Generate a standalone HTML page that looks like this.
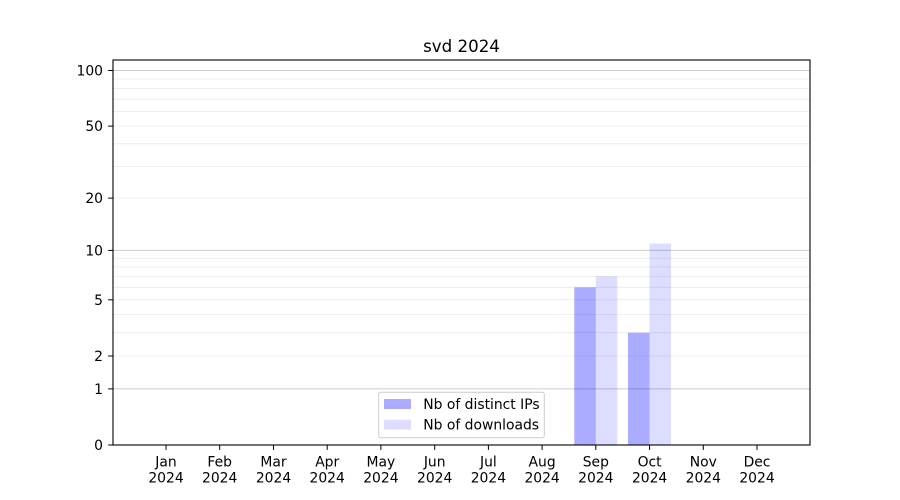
<!DOCTYPE html>
<html><head><meta charset="utf-8"><style>
html,body{margin:0;padding:0;background:#fff;}
svg{display:block;font-family:"DejaVu Sans","Liberation Sans",sans-serif;}
</style></head><body>
<svg width="900" height="500" viewBox="0 0 900 500" xmlns="http://www.w3.org/2000/svg">
<rect x="0" y="0" width="900" height="500" fill="#fff"/>
<!-- minor grid -->
<g stroke="#ebebeb" stroke-width="0.8">
<line x1="113" x2="810" y1="356.0" y2="356.0"/>
<line x1="113" x2="810" y1="332.7" y2="332.7"/>
<line x1="113" x2="810" y1="314.6" y2="314.6"/>
<line x1="113" x2="810" y1="299.8" y2="299.8"/>
<line x1="113" x2="810" y1="287.3" y2="287.3"/>
<line x1="113" x2="810" y1="276.4" y2="276.4"/>
<line x1="113" x2="810" y1="266.9" y2="266.9"/>
<line x1="113" x2="810" y1="258.3" y2="258.3"/>
<line x1="113" x2="810" y1="198.1" y2="198.1"/>
<line x1="113" x2="810" y1="166.5" y2="166.5"/>
<line x1="113" x2="810" y1="143.8" y2="143.8"/>
<line x1="113" x2="810" y1="126.1" y2="126.1"/>
<line x1="113" x2="810" y1="111.5" y2="111.5"/>
<line x1="113" x2="810" y1="99.2" y2="99.2"/>
<line x1="113" x2="810" y1="88.5" y2="88.5"/>
<line x1="113" x2="810" y1="79.1" y2="79.1"/>
</g>
<!-- major grid -->
<g stroke="#cccccc" stroke-width="1">
<line x1="113" x2="810" y1="388.9" y2="388.9"/>
<line x1="113" x2="810" y1="250.4" y2="250.4"/>
<line x1="113" x2="810" y1="70.5" y2="70.5"/>
</g>
<!-- bars -->
<rect x="574.3" y="287.3" width="21.5" height="157.7" fill="#0000ff" fill-opacity="0.33"/>
<rect x="595.8" y="276.4" width="21.5" height="168.6" fill="#0000ff" fill-opacity="0.135"/>
<rect x="628.0" y="332.7" width="21.5" height="112.3" fill="#0000ff" fill-opacity="0.33"/>
<rect x="649.5" y="243.5" width="21.5" height="201.5" fill="#0000ff" fill-opacity="0.135"/>
<!-- frame -->
<rect x="113" y="60" width="697" height="385" fill="none" stroke="#000" stroke-width="1.1"/>
<!-- y ticks -->
<g stroke="#000" stroke-width="1">
<line x1="108.2" x2="113" y1="445" y2="445"/>
<line x1="108.2" x2="113" y1="388.9" y2="388.9"/>
<line x1="108.2" x2="113" y1="356.0" y2="356.0"/>
<line x1="108.2" x2="113" y1="299.8" y2="299.8"/>
<line x1="108.2" x2="113" y1="250.4" y2="250.4"/>
<line x1="108.2" x2="113" y1="198.1" y2="198.1"/>
<line x1="108.2" x2="113" y1="126.1" y2="126.1"/>
<line x1="108.2" x2="113" y1="70.5" y2="70.5"/>
</g>
<g font-size="13.89" fill="#000" text-anchor="end">
<text x="103" y="450">0</text>
<text x="103" y="393.9">1</text>
<text x="103" y="361">2</text>
<text x="103" y="304.8">5</text>
<text x="103" y="255.4">10</text>
<text x="103" y="203.1">20</text>
<text x="103" y="131.1">50</text>
<text x="103" y="75.5">100</text>
</g>
<!-- x ticks -->
<g stroke="#000" stroke-width="1">
<line x1="166.0" x2="166.0" y1="445" y2="449.9"/>
<line x1="219.7" x2="219.7" y1="445" y2="449.9"/>
<line x1="273.5" x2="273.5" y1="445" y2="449.9"/>
<line x1="327.2" x2="327.2" y1="445" y2="449.9"/>
<line x1="380.9" x2="380.9" y1="445" y2="449.9"/>
<line x1="434.7" x2="434.7" y1="445" y2="449.9"/>
<line x1="488.4" x2="488.4" y1="445" y2="449.9"/>
<line x1="542.1" x2="542.1" y1="445" y2="449.9"/>
<line x1="595.8" x2="595.8" y1="445" y2="449.9"/>
<line x1="649.6" x2="649.6" y1="445" y2="449.9"/>
<line x1="703.3" x2="703.3" y1="445" y2="449.9"/>
<line x1="757.0" x2="757.0" y1="445" y2="449.9"/>
</g>
<g font-size="13.89" fill="#000" text-anchor="middle">
<text x="166.0" y="466.5">Jan</text><text x="166.0" y="482.5">2024</text>
<text x="219.7" y="466.5">Feb</text><text x="219.7" y="482.5">2024</text>
<text x="273.5" y="466.5">Mar</text><text x="273.5" y="482.5">2024</text>
<text x="327.2" y="466.5">Apr</text><text x="327.2" y="482.5">2024</text>
<text x="380.9" y="466.5">May</text><text x="380.9" y="482.5">2024</text>
<text x="434.7" y="466.5">Jun</text><text x="434.7" y="482.5">2024</text>
<text x="488.4" y="466.5">Jul</text><text x="488.4" y="482.5">2024</text>
<text x="542.1" y="466.5">Aug</text><text x="542.1" y="482.5">2024</text>
<text x="595.8" y="466.5">Sep</text><text x="595.8" y="482.5">2024</text>
<text x="649.6" y="466.5">Oct</text><text x="649.6" y="482.5">2024</text>
<text x="703.3" y="466.5">Nov</text><text x="703.3" y="482.5">2024</text>
<text x="757.0" y="466.5">Dec</text><text x="757.0" y="482.5">2024</text>
</g>
<!-- title -->
<text x="461.5" y="51.8" font-size="16.67" text-anchor="middle" fill="#000">svd 2024</text>
<!-- legend -->
<rect x="378.7" y="392.3" width="165.6" height="45.4" rx="2.5" ry="2.5" fill="#fff" fill-opacity="0.8" stroke="#cccccc" stroke-width="1"/>
<rect x="384" y="399" width="27" height="10" fill="#0000ff" fill-opacity="0.33"/>
<rect x="384" y="419.7" width="27" height="10" fill="#0000ff" fill-opacity="0.135"/>
<g font-size="13.89" fill="#000">
<text x="423.3" y="409.2">Nb of distinct IPs</text>
<text x="423.3" y="429.7">Nb of downloads</text>
</g>
</svg>
</body></html>
